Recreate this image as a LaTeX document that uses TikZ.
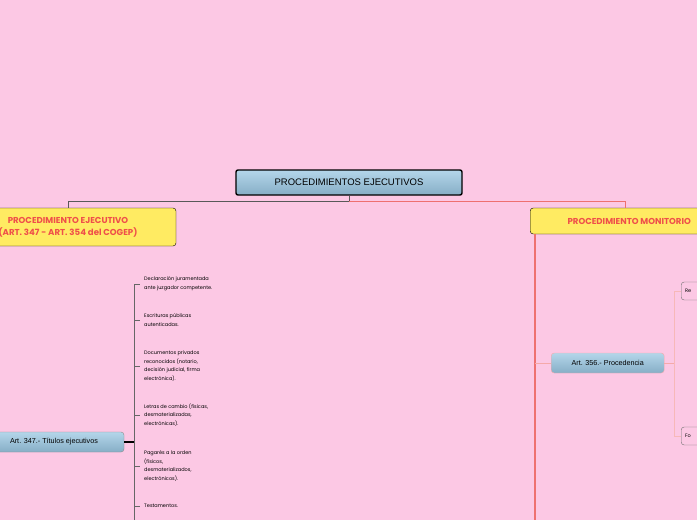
\documentclass[tikz,border=0pt]{standalone}
\usepackage{fontspec}
\setmainfont{Poppins}
\setsansfont{Liberation Sans}
\usetikzlibrary{positioning}
\definecolor{bgpink}{HTML}{FCC8E4}
\definecolor{boxyel}{HTML}{FFEB62}
\definecolor{redtxt}{HTML}{EF4F4A}
\definecolor{redline}{HTML}{EE7070}
\definecolor{blueA}{HTML}{B4D6EA}
\definecolor{blueB}{HTML}{86AEC6}
\begin{document}
\begin{tikzpicture}[x=1pt,y=-1pt]
\tikzstyle{root}=[draw=black, line width=1.4pt, rounded corners=2pt, top color=blueA, bottom color=blueB, minimum width=226pt, minimum height=25pt, font=\sffamily\fontsize{9.5}{11}\selectfont]
\tikzstyle{main}=[draw=black, rounded corners=3pt, fill=boxyel, text=redtxt, font=\bfseries\fontsize{8.6}{12}\selectfont, align=center]
\tikzstyle{sub}=[rounded corners=3pt, top color=blueA, bottom color=blueB, minimum height=20pt, font=\sffamily\fontsize{7.2}{8}\selectfont]
\tikzstyle{leaf}=[anchor=west, align=left, inner sep=0pt, font=\fontsize{5}{8.8}\selectfont]
\tikzstyle{tag}=[draw=black!55, rounded corners=3pt, fill=bgpink, anchor=west, minimum height=18pt, text width=30pt, inner xsep=4pt, align=left, font=\fontsize{5}{6}\selectfont]
\fill[bgpink] (0,0) rectangle (697,520);
\useasboundingbox (0,0) rectangle (697,520);
\clip (0,0) rectangle (697,520);
  \node[root] (root) at (349,182.5) {PROCEDIMIENTOS EJECUTIVOS};
  \node[main, minimum width=216pt, minimum height=38pt] (eje) at (68,227) {PROCEDIMIENTO EJECUTIVO\\(ART. 347 - ART. 354 del COGEP)};
  \node[main, minimum width=190pt, minimum height=26pt, anchor=west, align=left] (mon) at (530,221) {\hspace{8pt}PROCEDIMIENTO MONITORIO};
  \node[sub, draw=black!45, minimum width=140pt] (t347) at (54,442) {Art. 347.- Títulos ejecutivos};
  \node[sub, draw=redline!60, minimum width=113pt, anchor=west] (p356) at (551,363) {Art. 356.- Procedencia};
  \node[tag] (re) at (681,291) {Re};
  \node[tag] (fo) at (681,436) {Fo};
  \node[leaf] (l1) at (144,284) {Declaración juramentada\\ante juzgador competente.};
  \node[leaf] (l2) at (144,320) {Escrituras públicas\\autenticadas.};
  \node[leaf] (l3) at (144,366) {Documentos privados\\reconocidos (notario,\\decisión judicial, firma\\electrónica).};
  \node[leaf] (l4) at (144,415) {Letras de cambio (físicas,\\desmaterializadas,\\electrónicas).};
  \node[leaf] (l5) at (144,466) {Pagarés a la orden\\(físicos,\\desmaterializados,\\electrónicos).};
  \node[leaf] (l6) at (144,506) {Testamentos.};
  % root to the two main branches
  \draw[black!65, line width=1pt] (root.south) -- ++(0,6) -| (eje.north);
  \draw[redline, line width=1pt] (root.south) ++(0,6) -| (mon.north -| 625,0);
  % ejecutivo
  \draw[black, line width=1.6pt] (t347.east) -- (134,442);
  \draw[black!60, line width=1pt] (134,284) -- (134,525);
  \foreach \n/\y in {l1/284, l2/320, l3/366, l4/415, l5/466, l6/506}
    \draw[black!60, line width=0.7pt] (134,\y) -- (\n.west -| 140,0);
  % monitorio
  \draw[redline, line width=1.3pt] (mon.south west -| 535,0) -- (535,525);
  \draw[redline!60, line width=1pt] (535,363) -- (p356.west);
  \draw[redline!60, line width=1pt] (p356.east) -- (674,363);
  \draw[redline!50, line width=0.8pt] (re.west) -| (674,436) -- (fo.west);
\end{tikzpicture}
\end{document}
